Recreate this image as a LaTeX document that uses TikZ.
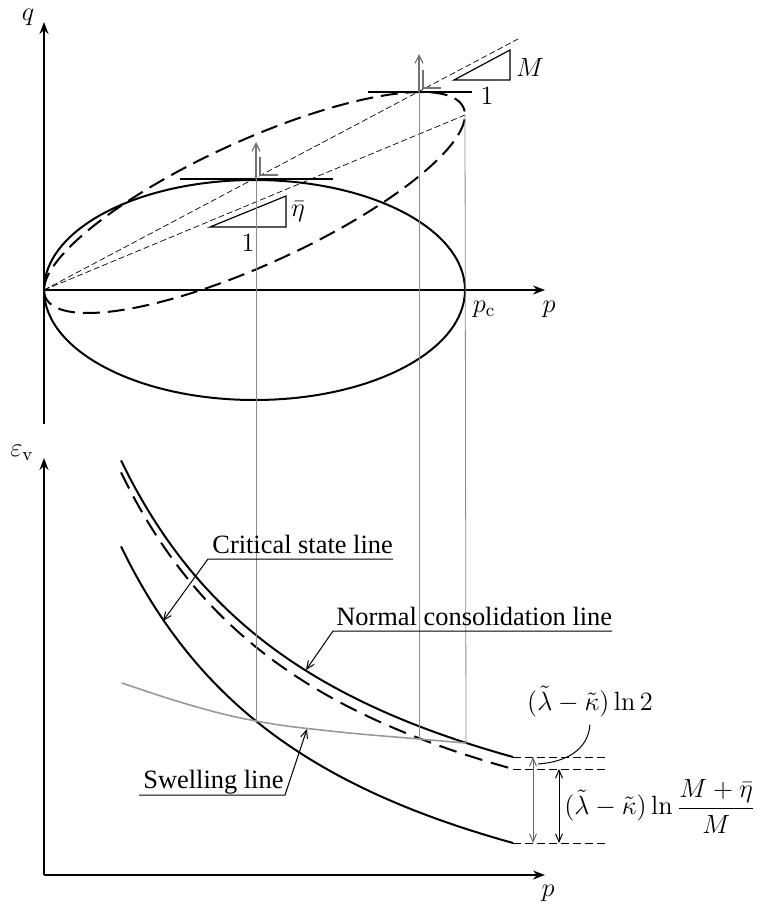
\RequirePackage{fix-cm}
\documentclass[tikz,border=0pt]{standalone}
\usepackage{amsmath}
\usepackage[no-math]{fontspec}
\newfontfamily\txtfont{Liberation Serif}
\usetikzlibrary{arrows.meta}

\begin{document}
\begin{tikzpicture}[x=0.5pt, y=-0.5pt, >=Stealth,
  font=\fontsize{13.2}{16}\selectfont,
  axis/.style={line width=0.8pt, -{Stealth[length=6pt,width=4.5pt]}},
  curve/.style={line width=1pt},
  yieldD/.style={line width=1pt, dash pattern=on 8.5pt off 4pt},
  ray/.style={line width=0.35pt, dash pattern=on 3pt off 1.5pt},
  guide/.style={line width=0.4pt, black!45},
  normal/.style={line width=0.6pt, black!55, -{Straight Barb[length=4pt,width=4pt]}},
  leader/.style={line width=0.5pt, -{Straight Barb[length=4pt,width=3.5pt]}},
  dimdash/.style={line width=0.5pt, dash pattern=on 4pt off 2pt},
  dim/.style={line width=0.5pt, {Straight Barb[length=4pt,width=3.5pt]}-{Straight Barb[length=4pt,width=3.5pt]}},
  lbl/.style={font=\txtfont\fontsize{13.2}{16}\selectfont, inner sep=0pt}]
  \useasboundingbox (0,0) rectangle (762,904);

  % --- p-q plane ---
  \coordinate (O) at (44,290);
  \coordinate (qbot) at (44,424);
  \coordinate (qtop) at (44,22);
  \coordinate (pend) at (545,290);
  \draw[axis] (qbot) -- (qtop);
  \draw[axis] (O) -- (pend);
  \node (q) at (28,17) {$q$};
  \node (p1) at (549,309) {$p$};
  \node (pc) at (484,309) {$p_{\mathrm{c}}$};

  % current yield surface and the enlarged one
  \draw[curve] (254.5,290) ellipse [x radius=105.25pt, y radius=55pt];
  \draw[yieldD] plot[domain=180:540, samples=120, smooth, variable=\t]
    ({254.5+210.5*cos(\t)}, {202.5-87.5*cos(\t)-67.5*sin(\t)});

  % stress ratio lines
  \coordinate (rayM) at (518,39);
  \coordinate (rayE) at (465,115);
  \draw[ray] (O) -- (rayM);
  \draw[ray] (O) -- (rayE);

  % tangents at the tops and plastic flow directions
  \coordinate (topS) at (256,179);
  \coordinate (topD) at (419,92);
  \draw[line width=0.6pt] (180,179) -- (333,179);
  \draw[line width=0.6pt] (368,92) -- (472,92);
  \draw[normal] (topS) -- (256,142);
  \draw[normal] (topD) -- (419,54);
  \draw[line width=0.6pt, black!55] (260,157) -- (260,175) -- (278,175);
  \draw[line width=0.6pt, black!55] (423,70) -- (423,88) -- (441,88);

  % slope triangles
  \draw[line width=0.6pt] (210,227) -- (286,227) -- (286,196) -- cycle;
  \node (eta) at (298,212) {$\bar\eta$};
  \node (one1) at (248,243) {$1$};
  \draw[line width=0.6pt] (454,80) -- (510,80) -- (510,50) -- cycle;
  \node (M) at (530,67) {$M$};
  \node (one2) at (487,96) {$1$};

  % --- p-epsilon_v plane ---
  \coordinate (O2) at (44,875);
  \draw[axis] (O2) -- (44,458);
  \draw[axis] (O2) -- (545,875);
  \node (ev) at (22,453) {$\varepsilon_{\mathrm{v}}$};
  \node (p2) at (548,893) {$p$};

  \def\nclpath{plot[domain=121:513, samples=60, smooth, variable=\x]
    ({\x}, {928.7-1063/((\x+106)/100)})}
  \draw[curve] \nclpath;
  \draw[yieldD, dash pattern=on 9pt off 4.5pt, shift={(0,12)}] \nclpath;
  \draw[curve, shift={(0,86)}] \nclpath;
  \draw[line width=0.8pt, black!40] plot[smooth, tension=0.7] coordinates
    {(122,683) (190,705) (256,721) (330,731) (419,739) (466,743)};

  % projections
  \draw[guide] (topS) -- (256,721);
  \draw[guide] (topD) -- (419,739);
  \draw[guide] (rayE) -- (466,743);

  % labels with leaders
  \node[lbl, anchor=base west] (csl) at (212,553) {Critical state line};
  \coordinate (cslA) at (208,559);
  \coordinate (cslB) at (393,559);
  \coordinate (cslT) at (163,621);
  \draw[leader] (cslB) -- (cslA) -- (cslT);

  \node[lbl, anchor=base west] (ncl) at (336,625) {Normal consolidation line};
  \coordinate (nclA) at (333,631);
  \coordinate (nclB) at (612,631);
  \coordinate (nclT) at (306,670);
  \draw[leader] (nclB) -- (nclA) -- (nclT);

  \node[lbl, anchor=base west] (swl) at (143,788) {Swelling line};
  \coordinate (swlA) at (139,795);
  \coordinate (swlB) at (285,795);
  \coordinate (swlT) at (307,729);
  \draw[leader] (swlA) -- (swlB) -- (swlT);

  % --- offsets at the right ---
  \draw[dimdash] (513,757) -- (605,757);
  \draw[dimdash] (513,769) -- (605,769);
  \draw[dimdash] (513,843) -- (605,843);
  \draw[dim, black!60] (533,757) -- (533,843);
  \draw[dim] (559,769) -- (559,843);
  \node (ln2) at (590,702) {$(\tilde\lambda-\tilde\kappa)\ln 2$};
  \coordinate (ln2T) at (538,764);
  \draw[line width=0.5pt] (ln2.south) .. controls (588,750) and (566,762) .. (ln2T);
  \node[anchor=west, inner sep=0pt] (lnM) at (564,806)
    {$(\tilde\lambda-\tilde\kappa)\ln\dfrac{M+\bar\eta}{M}$};
\end{tikzpicture}
\end{document}
